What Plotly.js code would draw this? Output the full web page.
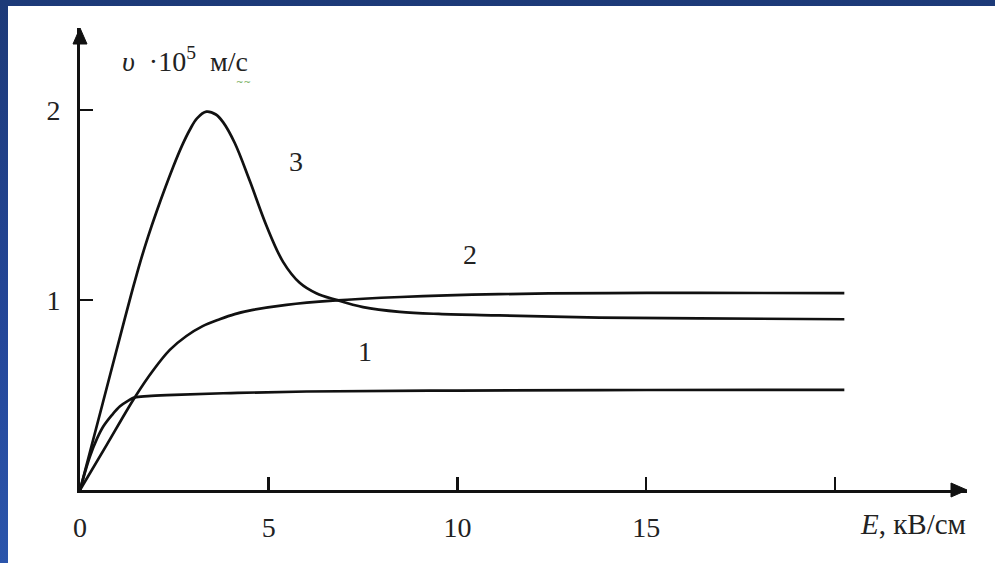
<!DOCTYPE html>
<html>
<head>
<meta charset="utf-8">
<script src="https://cdn.plot.ly/plotly-3.0.1.min.js"></script>
<style>
  html, body { margin: 0; padding: 0; width: 995px; height: 563px; overflow: hidden;
    background: linear-gradient(to bottom, #1d3a78 0%, #24479a 60%, #2b55ab 100%); }
  #plot { position: absolute; left: 8px; top: 6px; width: 987px; height: 557px; background: #ffffff; }
</style>
</head>
<body>
<div id="plot"></div>
<script>
// Curve 1
const E1 = [0, 0.26, 0.45, 0.62, 0.85, 1.06, 1.28, 1.45, 1.8, 2.5, 4, 6, 10, 15, 20.25];
const v1 = [0, 0.175, 0.27, 0.335, 0.395, 0.44, 0.47, 0.487, 0.494, 0.5, 0.51, 0.518, 0.523, 0.526, 0.527];
// Curve 2
const E2 = [0, 0.7, 1.45, 1.94, 2.38, 2.82, 3.25, 3.70, 4.1, 4.58, 5.47, 6.70, 8.5, 11.1, 14, 16.4, 20.25];
const v2 = [0, 0.235, 0.487, 0.63, 0.737, 0.81, 0.862, 0.898, 0.925, 0.947, 0.974, 0.996, 1.015, 1.03, 1.036, 1.037, 1.035];
// Curve 3
const E3 = [0, 0.6, 1.19, 1.4, 1.59, 1.8, 2.03, 2.47, 2.7, 2.91, 3.1, 3.35, 3.6, 3.79, 4.1, 4.5, 4.94, 5.38, 5.82, 6.26, 6.79, 7.5, 8.47, 9.5, 11.1, 13.76, 16.4, 20.25];
const v3 = [0, 0.455, 0.904, 1.06, 1.195, 1.33, 1.465, 1.70, 1.81, 1.895, 1.955, 1.99, 1.975, 1.935, 1.825, 1.625, 1.39, 1.2, 1.09, 1.035, 1.0, 0.962, 0.937, 0.926, 0.918, 0.907, 0.903, 0.898];

const xTickVals = [0, 5, 10, 15];
const xTickText = ["0", "5", "10", "15"];
const xExtraTick = [20];
const yTickVals = [1, 2];
const yTickText = ["1", "2"];

const curveLabels = ["1", "2", "3"];
const labelE = [7.54, 10.34, 5.73];
const labelV = [0.728, 1.237, 1.728];

const serif = "Liberation Serif, Times New Roman, serif";
const lineStyle = {color: "#111111", width: 2.7, shape: "spline", smoothing: 1};

const traces = [
  {x: E1, y: v1, mode: "lines", line: lineStyle, hoverinfo: "skip"},
  {x: E2, y: v2, mode: "lines", line: lineStyle, hoverinfo: "skip"},
  {x: E3, y: v3, mode: "lines", line: lineStyle, hoverinfo: "skip"}
];

const annotations = curveLabels.map((t, i) => ({
  x: labelE[i], y: labelV[i], xref: "x", yref: "y", text: t, showarrow: false,
  font: {family: serif, size: 28, color: "#222"}
}));
annotations.push({
  x: 0.045, y: 1, xref: "paper", yref: "paper", xanchor: "left", yanchor: "middle", yshift: -31,
  text: "<i>υ</i>  ·10<sup>5</sup>  м/с", showarrow: false,
  font: {family: serif, size: 28, color: "#222"}
});
annotations.push({
  x: 0.184, y: 1, xref: "paper", yref: "paper", xanchor: "center", yanchor: "middle", yshift: -54,
  text: "~~", showarrow: false,
  font: {family: "DejaVu Sans", size: 9, color: "#6aa84f"}
});
annotations.push({
  x: 0.877, y: 0, xref: "paper", yref: "paper", xanchor: "left", yanchor: "middle", yshift: -34,
  text: "<i>E</i>, кВ/см", showarrow: false,
  font: {family: serif, size: 29, color: "#222"}
});

const layout = {
  width: 987, height: 557,
  margin: {l: 72, r: 28, t: 22, b: 73},
  paper_bgcolor: "#ffffff", plot_bgcolor: "#ffffff",
  showlegend: false,
  xaxis: {
    range: [0, 23.5], showgrid: false, zeroline: false,
    showline: true, linecolor: "#111", linewidth: 2.8,
    ticks: "inside", ticklen: 13, tickwidth: 2.5, tickcolor: "#111",
    tickvals: xTickVals, ticktext: xTickText, ticklabelstandoff: 11,
    tickfont: {family: serif, size: 28, color: "#222"},
    minor: {tickvals: xExtraTick, ticks: "inside", ticklen: 13, tickwidth: 2.5, tickcolor: "#111", showgrid: false}
  },
  yaxis: {
    range: [0, 2.43], showgrid: false, zeroline: false,
    showline: true, linecolor: "#111", linewidth: 2.8,
    ticks: "inside", ticklen: 13, tickwidth: 2.5, tickcolor: "#111",
    tickvals: yTickVals, ticktext: yTickText, ticklabelstandoff: 11,
    tickfont: {family: serif, size: 28, color: "#222"}
  },
  shapes: [
    {type: "path", xref: "paper", yref: "paper", xsizemode: "pixel", ysizemode: "pixel",
     xanchor: 1, yanchor: 0, path: "M 0 0 L -16 7 L -16 -7 Z",
     fillcolor: "#111", line: {color: "#111", width: 1}},
    {type: "path", xref: "paper", yref: "paper", xsizemode: "pixel", ysizemode: "pixel",
     xanchor: 0, yanchor: 1, path: "M 0 0 L -7 -16 L 7 -16 Z",
     fillcolor: "#111", line: {color: "#111", width: 1}}
  ],
  annotations: annotations
};

Plotly.newPlot("plot", traces, layout, {displayModeBar: false, staticPlot: true});
</script>
</body>
</html>
